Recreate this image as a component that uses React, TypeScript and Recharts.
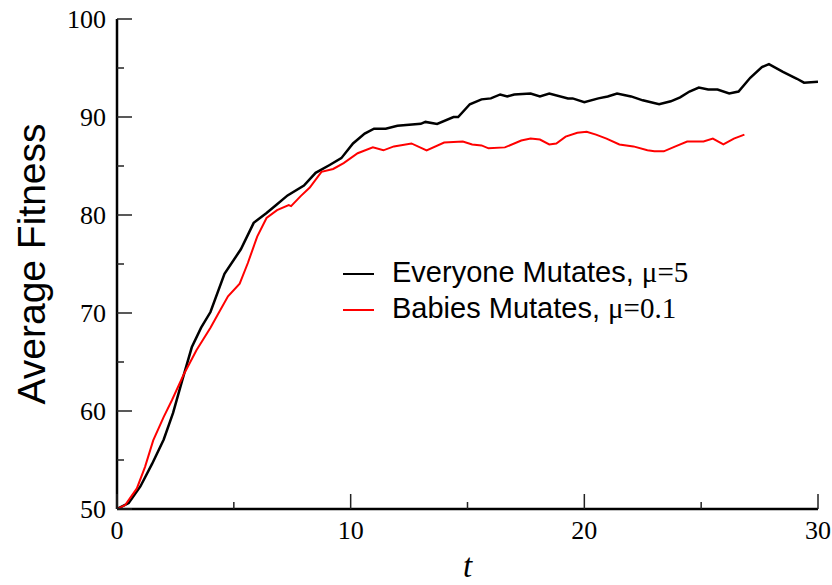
import { Label, Legend, Line, LineChart, XAxis, YAxis } from "recharts"

// Average fitness over time, two mutation schemes
const EVERYONE_T = [
  0, 0.5, 1.0, 1.5, 2.0, 2.4, 2.8, 3.2, 3.6, 4.0, 4.6, 5.3, 5.85, 6.4, 6.8, 7.3, 8.0, 8.5, 9.1, 9.6,
  10.1, 10.6, 11.0, 11.5, 12.0, 13.0, 13.2, 13.7, 14.4, 14.6, 15.1, 15.6, 16.0, 16.4, 16.7, 17.0, 17.7,
  18.1, 18.5, 19.3, 19.5, 20.0, 20.6, 21.0, 21.4, 22.0, 22.5, 23.2, 23.7, 24.1, 24.5, 24.9, 25.3, 25.7,
  26.2, 26.6, 27.1, 27.6, 27.9, 28.5, 29.1, 29.4, 30.0,
]
const EVERYONE_FIT = [
  50, 50.6, 52.3, 54.6, 57.1, 59.8, 63.2, 66.5, 68.5, 70.1, 74.0, 76.5, 79.2, 80.2, 81.0, 82.0, 83.0, 84.3, 85.1, 85.8,
  87.3, 88.3, 88.8, 88.8, 89.1, 89.3, 89.5, 89.3, 90.0, 90.0, 91.3, 91.8, 91.9, 92.3, 92.1, 92.3, 92.4,
  92.1, 92.4, 91.9, 91.9, 91.5, 91.9, 92.1, 92.4, 92.1, 91.7, 91.3, 91.6, 92.0, 92.6, 93.0, 92.8, 92.8,
  92.4, 92.6, 94.0, 95.1, 95.4, 94.6, 93.9, 93.5, 93.6,
]

const BABIES_T = [
  0, 0.35, 0.85, 1.2, 1.55, 2.0, 2.35, 2.85, 3.4, 4.0, 4.35, 4.75, 5.25, 5.6, 6.0, 6.4, 6.85, 7.35, 7.45,
  7.85, 8.25, 8.75, 9.25, 9.7, 10.3, 10.95, 11.4, 11.85, 12.6, 13.25, 14.0, 14.8, 15.2, 15.6, 15.9, 16.6,
  17.3, 17.7, 18.1, 18.5, 18.8, 19.2, 19.7, 20.1, 20.5, 20.95, 21.5, 22.1, 22.7, 23.0, 23.4, 23.9, 24.4,
  25.1, 25.5, 25.95, 26.4, 26.85,
]
const BABIES_FIT = [
  50, 50.4, 52.1, 54.3, 57.0, 59.4, 61.1, 63.7, 66.2, 68.5, 70.0, 71.7, 73.0, 75.1, 77.8, 79.7, 80.5, 81.0, 80.9,
  81.9, 82.8, 84.4, 84.7, 85.3, 86.3, 86.9, 86.6, 87.0, 87.3, 86.6, 87.4, 87.5, 87.2, 87.1, 86.8, 86.9,
  87.6, 87.8, 87.7, 87.2, 87.3, 88.0, 88.4, 88.5, 88.2, 87.8, 87.2, 87.0, 86.6, 86.5, 86.5, 87.0, 87.5,
  87.5, 87.8, 87.2, 87.8, 88.2,
]

const T_TICKS = [0, 5, 10, 15, 20, 25, 30]
const FIT_TICKS = [50, 55, 60, 65, 70, 75, 80, 85, 90, 95, 100]
const SERIES_LABELS = ["Everyone Mutates,", "Babies Mutates,"]
const SERIES_MU = ["μ=5", "μ=0.1"]
const SERIES_COLORS = ["#000000", "#ff0000"]

const everyone = EVERYONE_T.map((t, i) => ({ t, fit: EVERYONE_FIT[i] }))
const babies = BABIES_T.map((t, i) => ({ t, fit: BABIES_FIT[i] }))

const SERIF = '"Liberation Serif", "Times New Roman", serif'
const SANS = '"Liberation Sans", Arial, sans-serif'
const TICK_COLOR = "#222"
const numberStyle = { fontFamily: SERIF, fontSize: 26, fill: "#000" }

const tickLength = (value: number) => (value % 10 === 0 ? 15 : 7)

// ticks point into the plot; only the decades get a number
function BottomTick({ x, y, payload }: any) {
  const v = payload.value
  return (
    <g>
      <line x1={x} y1={y} x2={x} y2={y - tickLength(v)} stroke={TICK_COLOR} strokeWidth={1.5} />
      {v % 10 === 0 ? (
        <text x={x} y={y + 30} textAnchor="middle" style={numberStyle}>
          {v}
        </text>
      ) : null}
    </g>
  )
}

function TopTick({ x, y, payload }: any) {
  return <line x1={x} y1={y} x2={x} y2={y + tickLength(payload.value)} stroke={TICK_COLOR} strokeWidth={1.5} />
}

function LeftTick({ x, y, payload }: any) {
  const v = payload.value
  return (
    <g>
      <line x1={x} y1={y} x2={x + tickLength(v)} y2={y} stroke={TICK_COLOR} strokeWidth={1.5} />
      {v % 10 === 0 ? (
        <text x={x - 11} y={y + 9} textAnchor="end" style={numberStyle}>
          {v}
        </text>
      ) : null}
    </g>
  )
}

function RightTick({ x, y, payload }: any) {
  return <line x1={x} y1={y} x2={x - tickLength(payload.value)} y2={y} stroke={TICK_COLOR} strokeWidth={1.5} />
}

// legend keeps the series order (recharts would sort it by name)
function FitnessLegend() {
  return (
    <div>
      {SERIES_LABELS.map((label, i) => (
        <div key={label} style={{ display: "flex", alignItems: "center", height: 36 }}>
          <span
            style={{
              width: 31,
              height: 0,
              borderTop: `2px solid ${SERIES_COLORS[i]}`,
              marginRight: 18,
              position: "relative",
              top: 2,
            }}
          />
          <span style={{ fontFamily: SANS, fontSize: 29, lineHeight: "36px", whiteSpace: "nowrap", color: "#000" }}>
            {label} <span style={{ fontFamily: SERIF }}>{SERIES_MU[i]}</span>
          </span>
        </div>
      ))}
    </div>
  )
}

const frame = { stroke: "#000", strokeWidth: 2.5 }

export default function App() {
  return (
    <div style={{ position: "absolute", left: 0, top: 0, background: "#fff" }}>
      <LineChart width={832} height={585} margin={{ top: 19, right: 14, bottom: 0, left: 0 }}>
        <XAxis
          xAxisId="bottom"
          dataKey="t"
          type="number"
          domain={[0, 30]}
          ticks={T_TICKS}
          interval={0}
          height={76}
          tickSize={0}
          tickMargin={0}
          tickLine={false}
          axisLine={frame}
          tick={BottomTick}
          allowDataOverflow
        >
          <Label
            value="t"
            position="insideBottom"
            offset={8}
            style={{ fontFamily: SERIF, fontStyle: "italic", fontSize: 33, fill: "#000" }}
          />
        </XAxis>
        <XAxis
          xAxisId="top"
          orientation="top"
          type="number"
          domain={[0, 30]}
          ticks={T_TICKS}
          interval={0}
          height={0}
          tickSize={0}
          tickMargin={0}
          tickLine={false}
          axisLine={frame}
          tick={TopTick}
        />
        <YAxis
          yAxisId="left"
          type="number"
          domain={[50, 100]}
          ticks={FIT_TICKS}
          interval={0}
          width={117}
          tickSize={0}
          tickMargin={0}
          tickLine={false}
          axisLine={frame}
          tick={LeftTick}
          allowDataOverflow
        >
          <Label
            value="Average Fitness"
            angle={-90}
            position="insideLeft"
            offset={31}
            style={{ fontFamily: SANS, fontSize: 39, fill: "#000", textAnchor: "middle" }}
          />
        </YAxis>
        <YAxis
          yAxisId="right"
          orientation="right"
          type="number"
          domain={[50, 100]}
          ticks={FIT_TICKS}
          interval={0}
          width={0}
          tickSize={0}
          tickMargin={0}
          tickLine={false}
          axisLine={frame}
          tick={RightTick}
        />
        <Legend
          layout="horizontal"
          verticalAlign="middle"
          align="center"
          content={FitnessLegend}
          wrapperStyle={{ left: 343, top: 254, width: "auto" }}
        />
        <Line
          xAxisId="bottom"
          yAxisId="left"
          data={everyone}
          dataKey="fit"
          name="Everyone Mutates, μ=5"
          type="linear"
          stroke={SERIES_COLORS[0]}
          strokeWidth={2.5}
          dot={false}
          activeDot={false}
          isAnimationActive={false}
        />
        <Line
          xAxisId="bottom"
          yAxisId="left"
          data={babies}
          dataKey="fit"
          name="Babies Mutates, μ=0.1"
          type="linear"
          stroke={SERIES_COLORS[1]}
          strokeWidth={2}
          dot={false}
          activeDot={false}
          isAnimationActive={false}
        />
      </LineChart>
    </div>
  )
}
